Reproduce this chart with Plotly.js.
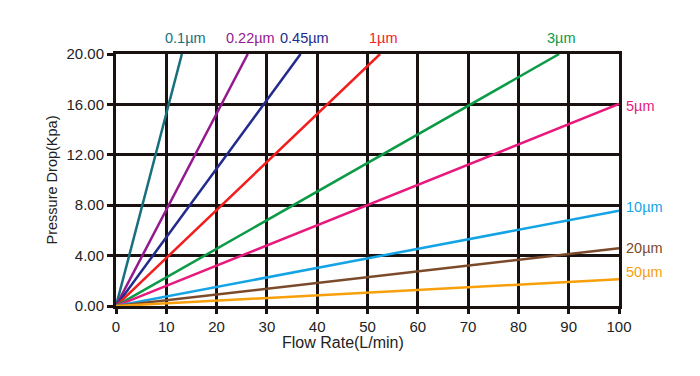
<!DOCTYPE html>
<html><head><meta charset="utf-8">
<script src="https://cdn.plot.ly/plotly-3.0.1.min.js"></script>
<style>html,body{margin:0;padding:0;background:#fff}#c{width:700px;height:376px}</style>
</head><body><div id="c"></div>
<script>
const grades = ["0.1µm","0.22µm","0.45µm","1µm","3µm","5µm","10µm","20µm","50µm"];
const endFlow = [13.1, 26.2, 36.7, 52.5, 88.1, 100, 100, 100, 100];
const endDrop = [20, 20, 20, 20, 20, 16.03, 7.56, 4.58, 2.12];
const colors = ["#17707c","#94198f","#232a8c","#f21d1d","#0b9a46","#e8197d","#14a4e6","#7b4a2b","#f7a00c"];
const xTicks = [0,10,20,30,40,50,60,70,80,90,100];
const yTicks = [0,4,8,12,16,20];
const xTitle = "Flow Rate(L/min)";
const yTitle = "Pressure Drop(Kpa)";

const traces = grades.map((g,i)=>({
  x:[0,endFlow[i]], y:[0,endDrop[i]], mode:"lines", name:g,
  line:{color:colors[i], width:2.5}, hoverinfo:"skip"
}));

const fam = "Liberation Sans, Arial, sans-serif";
const labelShift = {x:[4,3,4,3,2,5,5,5,5], y:[16,16,16,16,16,-2,4,0,7]};
const annotations = grades.map((g,i)=>{
  const top = endDrop[i] >= 20;
  return {
    x:endFlow[i], y:endDrop[i], xref:"x", yref:"y", text:g, showarrow:false,
    xanchor: top ? "center" : "left", yanchor:"middle",
    xshift: labelShift.x[i], yshift: labelShift.y[i],
    font:{family:fam, size:14.5, color:colors[i]}
  };
});
annotations.push({x:0.451, y:0, xref:"paper", yref:"paper", yshift:-36, text:xTitle,
  showarrow:false, xanchor:"center", yanchor:"middle", font:{family:fam, size:16, color:"#222"}});

const tickFont = {family:fam, size:15, color:"#222"};
const layout = {
  width:700, height:376, showlegend:false,
  paper_bgcolor:"#fff", plot_bgcolor:"#fff",
  margin:{l:116, r:81, t:54, b:70},
  xaxis:{range:[0,100], tickvals:xTicks, ticktext:xTicks.map(String),
    showgrid:true, gridcolor:"#1a1210", gridwidth:3, zeroline:false,
    showline:true, linecolor:"#1a1210", linewidth:3, mirror:true,
    ticks:"outside", ticklen:5, tickwidth:3, tickcolor:"#1a1210",
    tickfont:tickFont},
  yaxis:{range:[0,20], tickvals:yTicks, tickformat:".2f",
    showgrid:true, gridcolor:"#1a1210", gridwidth:3, zeroline:false,
    showline:true, linecolor:"#1a1210", linewidth:3, mirror:true,
    ticks:"outside", ticklen:6, tickwidth:3, tickcolor:"#1a1210",
    tickfont:tickFont, title:{text:yTitle, font:{family:fam, size:14.5, color:"#222"}, standoff:6}},
  annotations: annotations
};
Plotly.newPlot("c", traces, layout, {displayModeBar:false, staticPlot:true});
</script></body></html>
